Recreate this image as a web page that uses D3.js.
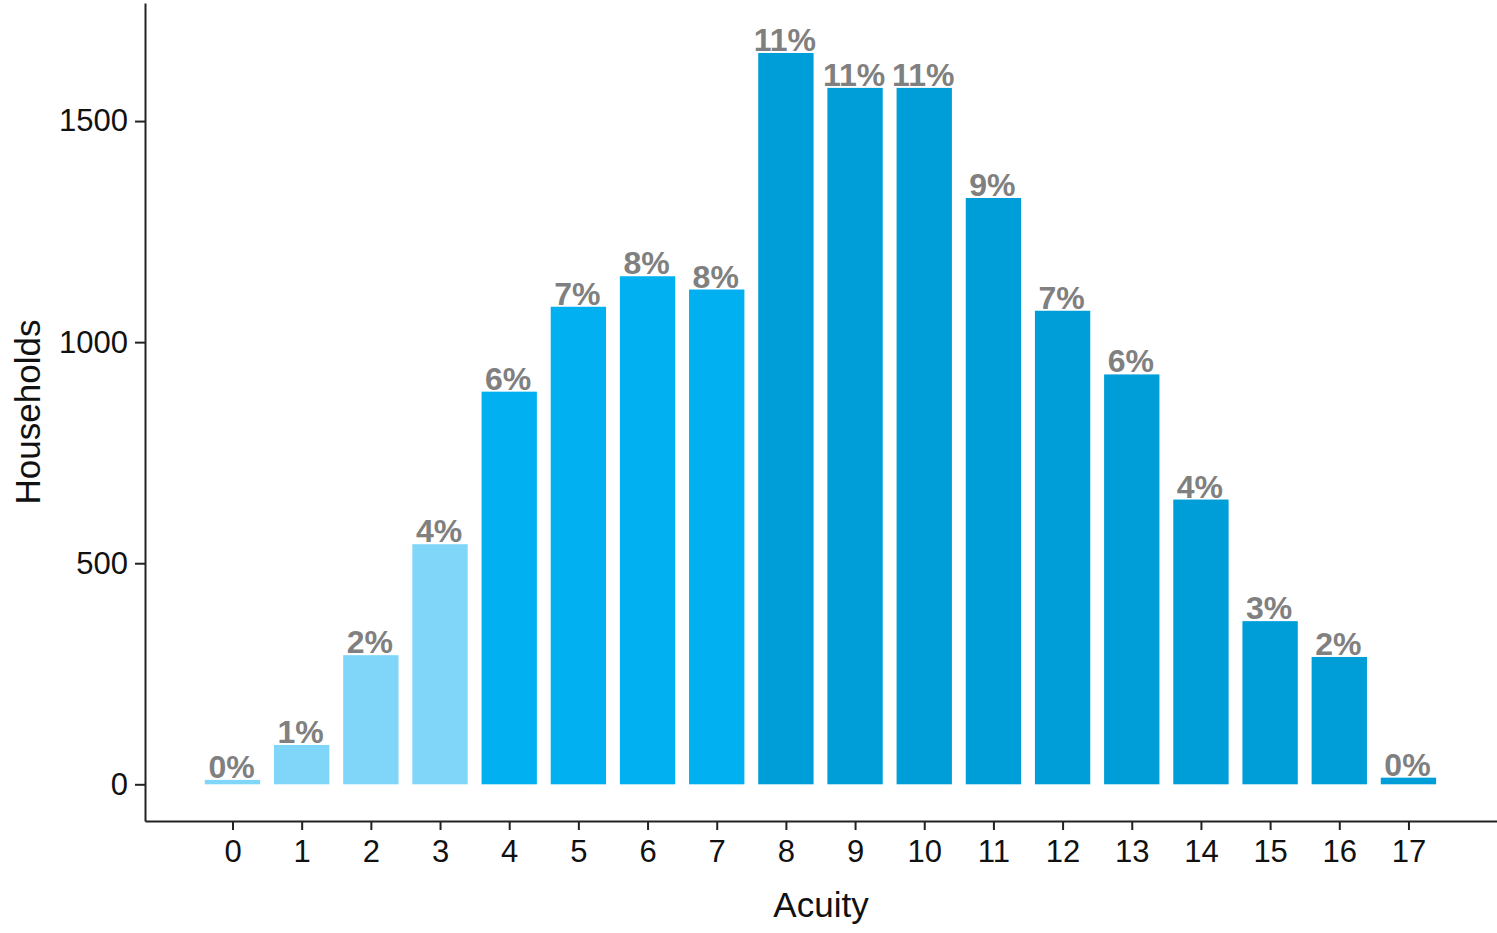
<!DOCTYPE html>
<html>
<head>
<meta charset="utf-8">
<script src="https://cdn.jsdelivr.net/npm/d3@7"></script>
<style>
  html, body { margin: 0; padding: 0; background: #fff; }
  svg { display: block; }
  text { font-family: "Liberation Sans", Arial, sans-serif; }
</style>
</head>
<body>
<svg id="chart" width="1497" height="933"></svg>
<script>
const categories = [0,1,2,3,4,5,6,7,8,9,10,11,12,13,14,15,16,17];
const households = [10,89,292,543,888,1080,1149,1119,1654,1575,1575,1326,1071,927,644,369,288,15];
const pctLabels = ["0%","1%","2%","4%","6%","7%","8%","8%","11%","11%","11%","9%","7%","6%","4%","3%","2%","0%"];
const groups = ["low","low","low","low","mid","mid","mid","mid","high","high","high","high","high","high","high","high","high","high"];
const yTicks = [0,500,1000,1500];

const colors = { low: "#7FD6F8", mid: "#00B0F0", high: "#009ED8" };

const svg = d3.select("#chart");
const pL = 145, pR = 1497, pT = 3, pB = 821;

const x = d3.scaleLinear().domain([-1.265, 18.28]).range([pL, pR]);
const y = d3.scaleLinear().domain([-83, 1767]).range([pB, pT]);
const bw = (x(1) - x(0)) * 0.8;

// bars
svg.append("g").selectAll("rect").data(categories).join("rect")
  .attr("x", (d) => x(d) - bw / 2)
  .attr("width", bw)
  .attr("y", (d, i) => y(households[i]))
  .attr("height", (d, i) => y(0) - y(households[i]))
  .attr("fill", (d, i) => colors[groups[i]]);

// labels
svg.append("g").selectAll("text").data(categories).join("text")
  .attr("x", (d) => x(d) - 1)
  .attr("y", (d, i) => y(households[i]) - 2)
  .attr("text-anchor", "middle")
  .attr("font-size", 32)
  .attr("font-weight", "bold")
  .attr("fill", "#808080")
  .text((d, i) => pctLabels[i]);

// axes
const xAxis = d3.axisBottom(x).tickValues(categories).tickFormat(d3.format("d")).tickSize(9).tickSizeOuter(0).tickPadding(10);
const yAxis = d3.axisLeft(y).tickValues(yTicks).tickFormat(d3.format("d")).tickSize(10).tickSizeOuter(0).tickPadding(7);

const gx = svg.append("g").attr("transform", `translate(0,${pB})`).call(xAxis);
const gy = svg.append("g").attr("transform", `translate(${pL},0)`).call(yAxis);

[gx, gy].forEach(g => {
  g.select(".domain").attr("stroke", "#222").attr("stroke-width", 2);
  g.selectAll(".tick line").attr("stroke", "#222").attr("stroke-width", 2);
  g.selectAll(".tick text").attr("font-size", 31).attr("fill", "#111")
    .attr("font-family", "'Liberation Sans', Arial, sans-serif");
});

// axis titles
svg.append("text")
  .attr("x", (pL + pR) / 2)
  .attr("y", 917)
  .attr("text-anchor", "middle")
  .attr("font-size", 35)
  .attr("fill", "#111")
  .text("Acuity");

svg.append("text")
  .attr("transform", `translate(40,${(pT + pB) / 2}) rotate(-90)`)
  .attr("text-anchor", "middle")
  .attr("font-size", 35)
  .attr("fill", "#111")
  .text("Households");
</script>
</body>
</html>
